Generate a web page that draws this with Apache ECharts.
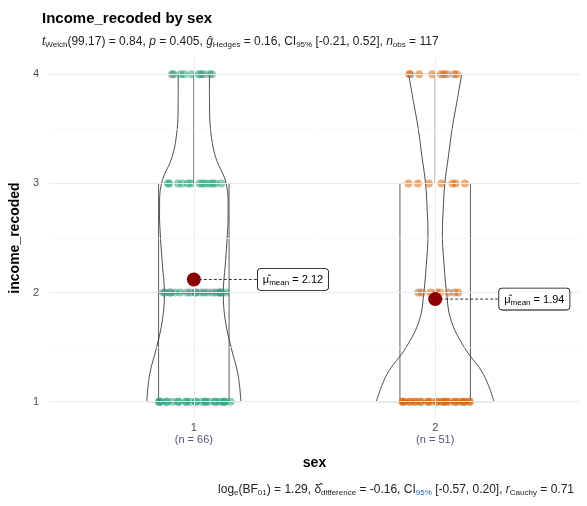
<!DOCTYPE html>
<html lang="en">
<head>
<meta charset="UTF-8">
<script src="https://cdn.jsdelivr.net/npm/echarts@6/dist/echarts.min.js"></script>
<title>income by sex</title>
<style>
  html, body { margin: 0; padding: 0; background: #fff; }
  #chart { width: 587px; height: 506px; }
</style>
</head>
<body>
<div id="chart"></div>
<script>
// groups on the x axis
var groups = [1, 2];
var groupN = [66, 51];
// violin outline: y levels and half widths (x-axis units) per group
var violinY = [1, 1.25, 1.5, 1.75, 2, 2.25, 2.5, 2.75, 3, 3.25, 3.5, 3.75, 4];
var violinW1 = [0.195, 0.183, 0.154, 0.13, 0.122, 0.13, 0.138, 0.142, 0.134, 0.089, 0.069, 0.065, 0.065];
var violinW2 = [0.244, 0.2, 0.12, 0.065, 0.047, 0.037, 0.03, 0.033, 0.04, 0.055, 0.07, 0.09, 0.11];
// box stats: [min, q1, median, q3, max]
var box1 = [1, 1, 2, 3, 4];
var box2 = [1, 1, 1, 3, 4];
// counts of responses at income levels 1..4
var levels = [1, 2, 3, 4];
var counts1 = [24, 19, 13, 10];
var counts2 = [27, 8, 7, 9];
// jitter spread (x units) observed per level
var spread1 = [0.16, 0.14, 0.12, 0.1];
var spread2 = [0.15, 0.1, 0.13, 0.12];
var jitterPattern = [-0.9, 0.3, -0.4, 0.8, 0.05, -0.7, 0.55, -0.2, 0.95, -0.55, 0.2, 0.65, -0.85, 0.4, -0.1, 0.75];
// means
var means = [2.12, 1.94];

var colors = ['#1B9E77', '#D95F02'];

function jitterPoints(g, counts, spread) {
  var pts = [];
  levels.forEach(function (lv, i) {
    for (var k = 0; k < counts[i]; k++) {
      var off = jitterPattern[(k + i * 3) % jitterPattern.length] * spread[i];
      pts.push([g + off, lv]);
    }
  });
  return pts;
}

var gridLines = [];
[1, 1.5, 2, 2.5, 3, 3.5, 4].forEach(function (v) {
  gridLines.push({ yAxis: v, lineStyle: { color: v % 1 === 0 ? '#ebebeb' : '#f5f5f5', width: v % 1 === 0 ? 1 : 0.6, type: 'solid' } });
});
groups.forEach(function (g) {
  gridLines.push({ xAxis: g, lineStyle: { color: '#ebebeb', width: 1, type: 'solid' } });
});

function violinItem(params, api) {
  var g = api.value(0);
  var w = g === 1 ? violinW1 : violinW2;
  var right = [], left = [];
  for (var i = 0; i < violinY.length; i++) right.push(api.coord([g + w[i], violinY[i]]));
  for (var j = violinY.length - 1; j >= 0; j--) left.push(api.coord([g - w[j], violinY[j]]));
  var st = { fill: 'none', stroke: '#222', lineWidth: 0.8 };
  return { type: 'group', children: [
    { type: 'polyline', shape: { points: right, smooth: 0.4 }, style: st },
    { type: 'polyline', shape: { points: left, smooth: 0.4 }, style: st },
    { type: 'line', shape: { x1: left[left.length - 1][0], y1: left[left.length - 1][1], x2: right[0][0], y2: right[0][1] }, style: st },
    { type: 'line', shape: { x1: left[0][0], y1: left[0][1], x2: right[right.length - 1][0], y2: right[right.length - 1][1] }, style: st }
  ] };
}

function boxItem(params, api) {
  var g = api.value(0);
  var b = g === 1 ? box1 : box2;
  var hw = 0.146;
  var tl = api.coord([g - hw, b[3]]);
  var br = api.coord([g + hw, b[1]]);
  var ml = api.coord([g - hw, b[2]]);
  var mr = api.coord([g + hw, b[2]]);
  var wt = api.coord([g, b[4]]);
  var wq3 = api.coord([g, b[3]]);
  var st = { stroke: '#333', lineWidth: 0.8, fill: 'none' };
  return { type: 'group', children: [
    { type: 'polygon', shape: { points: [[tl[0], tl[1]], [br[0], tl[1]], [br[0], br[1]], [tl[0], br[1]]] }, style: st },
    { type: 'line', shape: { x1: ml[0], y1: ml[1], x2: mr[0], y2: mr[1] }, style: { stroke: '#333', lineWidth: 1.8 } },
    { type: 'line', shape: { x1: wt[0], y1: wt[1], x2: wq3[0], y2: wq3[1] }, style: st }
  ] };
}

function meanItem(params, api) {
  var p = api.coord([api.value(0), api.value(1)]);
  var lx = p[0] + 64;
  var txt = '{m|μ̂}{s|mean}{m| = ' + api.value(1).toFixed(2) + '}';
  return { type: 'group', children: [
    { type: 'line', shape: { x1: p[0], y1: p[1], x2: lx, y2: p[1] }, style: { stroke: '#000', lineDash: [3, 2], lineWidth: 0.8 } },
    { type: 'circle', shape: { cx: p[0], cy: p[1], r: 7 }, style: { fill: '#8B0000' } },
    { type: 'text', x: lx, y: p[1], style: {
      text: txt, verticalAlign: 'middle', align: 'left',
      backgroundColor: '#fff', borderColor: '#000', borderWidth: 0.8, borderRadius: 3, padding: [4, 5, 3, 5],
      rich: { m: { fontSize: 11, fontFamily: 'Liberation Sans', color: '#000' }, s: { fontSize: 8, fontFamily: 'Liberation Sans', color: '#000', padding: [6, 0, 0, 0] } }
    } }
  ] };
}

var chart = echarts.init(document.getElementById('chart'));
var sub = { fontSize: 8, fontWeight: 'normal', fontFamily: 'Liberation Sans', padding: [6, 0, 0, 0], color: '#222' };
var norm = { fontSize: 12, fontWeight: 'normal', fontFamily: 'Liberation Sans', color: '#222' };
var ital = { fontSize: 12, fontWeight: 'normal', fontFamily: 'Liberation Sans', fontStyle: 'italic', color: '#222' };
chart.setOption({
  animation: false,
  title: [{
    text: 'Income_recoded by sex', left: 37, top: 6,
    textStyle: { fontSize: 15, fontWeight: 'bold', fontFamily: 'Liberation Sans', color: '#000' }
  }, {
    text: '{i|t}{s|Welch}{n|(99.17) = 0.84, }{i|p}{n| = 0.405, }{i|ĝ}{s|Hedges}{n| = 0.16, CI}{s|95%}{n| [-0.21, 0.52], }{i|n}{s|obs}{n| = 117}',
    left: 37, top: 30,
    textStyle: { fontWeight: 'normal', rich: { n: norm, i: ital, s: sub } }
  }, {
    text: '{n|log}{s|e}{n|(BF}{s|01}{n|) = 1.29, δ̂}{s|difference}{n| = -0.16, CI}{b|95%}{n| [-0.57, 0.20], }{i|r}{s|Cauchy}{n| = 0.71}',
    right: 8, top: 478,
    textStyle: { fontWeight: 'normal', rich: {
      n: norm, i: ital, s: sub,
      b: { fontSize: 8, fontWeight: 'normal', fontFamily: 'Liberation Sans', padding: [6, 0, 0, 0], color: '#1f5fbf' }
    } }
  }],
  grid: { left: 38, right: 7, top: 58, bottom: 88 },
  xAxis: {
    type: 'value', min: 0.4, max: 2.6, interval: 0.2,
    name: 'sex', nameLocation: 'middle', nameGap: 38,
    nameTextStyle: { fontSize: 14, fontWeight: 'bold', fontFamily: 'Liberation Sans', color: '#000' },
    axisLine: { show: false }, axisTick: { show: false }, splitLine: { show: false },
    axisLabel: {
      margin: 4, fontFamily: 'Liberation Sans', fontSize: 11, color: '#4d4d4d', lineHeight: 12,
      formatter: function (v) {
        var i = groups.indexOf(Math.round(v * 10) / 10);
        return i < 0 ? '' : groups[i] + '\n{n|(n = ' + groupN[i] + ')}';
      },
      rich: { n: { fontSize: 11, color: '#555577', fontFamily: 'Liberation Sans' } }
    }
  },
  yAxis: {
    type: 'value', min: 0.85, max: 4.15,
    name: 'income_recoded', nameLocation: 'middle', nameGap: 24, nameRotate: 90,
    nameTextStyle: { fontSize: 14, fontWeight: 'bold', fontFamily: 'Liberation Sans', color: '#000' },
    axisLine: { show: false }, axisTick: { show: false }, splitLine: { show: false },
    axisLabel: { customValues: levels, fontFamily: 'Liberation Sans', fontSize: 11, color: '#4d4d4d', margin: 10 }
  },
  series: [
    { type: 'line', data: [], silent: true, markLine: { symbol: 'none', silent: true, label: { show: false }, data: gridLines } },
    { type: 'custom', renderItem: violinItem, data: [[1], [2]], z: 2 },
    { type: 'custom', renderItem: boxItem, data: [[1], [2]], z: 3 },
    { type: 'scatter', data: jitterPoints(1, counts1, spread1), symbolSize: 8, itemStyle: { color: colors[0], opacity: 0.5 }, z: 4 },
    { type: 'scatter', data: jitterPoints(2, counts2, spread2), symbolSize: 8, itemStyle: { color: colors[1], opacity: 0.5 }, z: 4 },
    { type: 'custom', renderItem: meanItem, data: [[1, means[0]], [2, means[1]]], z: 5 }
  ]
});
</script>
</body>
</html>
